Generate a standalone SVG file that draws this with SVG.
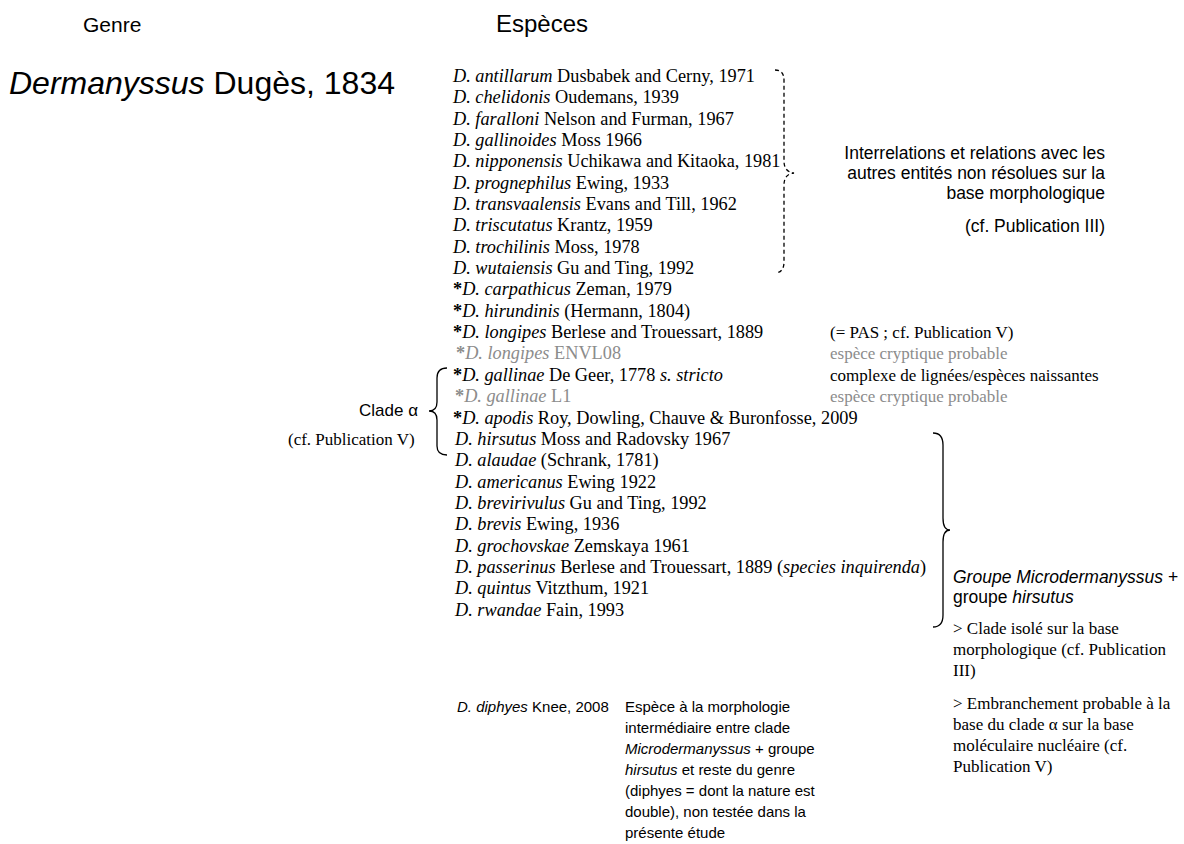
<svg xmlns="http://www.w3.org/2000/svg" width="1184" height="844" viewBox="0 0 1184 844">
<style>
.sans{font-family:"Liberation Sans",Arial,sans-serif;fill:#000}
.sp{font-family:"Liberation Serif","Times New Roman",serif;font-size:18.3px;fill:#000}
.note{font-family:"Liberation Serif","Times New Roman",serif;font-size:17px;fill:#000}
.grey{fill:#8c8c8c}
.i{font-style:italic}
.b{font-weight:bold}
.brace{fill:none;stroke:#000;stroke-width:1.3}
.dash{stroke-dasharray:4 3}
</style>
<rect width="1184" height="844" fill="#fff"/>
<g id="headers">
<text class="sans" x="83" y="32" font-size="21">Genre</text>
<text class="sans" x="496" y="32" font-size="24">Espèces</text>
</g>
<g id="genus">
<text class="sans" x="9" y="94" font-size="32"><tspan class="i">Dermanyssus</tspan> Dugès, 1834</text>
</g>
<g id="species">
<text class="sp" x="453" y="82"><tspan class="i">D. antillarum</tspan> Dusbabek and Cerny, 1971</text>
<text class="sp" x="453" y="103"><tspan class="i">D. chelidonis</tspan> Oudemans, 1939</text>
<text class="sp" x="453" y="125"><tspan class="i">D. faralloni</tspan> Nelson and Furman, 1967</text>
<text class="sp" x="453" y="146"><tspan class="i">D. gallinoides</tspan> Moss 1966</text>
<text class="sp" x="453" y="167"><tspan class="i">D. nipponensis</tspan> Uchikawa and Kitaoka, 1981</text>
<text class="sp" x="453" y="189"><tspan class="i">D. prognephilus</tspan> Ewing, 1933</text>
<text class="sp" x="453" y="210"><tspan class="i">D. transvaalensis</tspan> Evans and Till, 1962</text>
<text class="sp" x="453" y="231"><tspan class="i">D. triscutatus</tspan> Krantz, 1959</text>
<text class="sp" x="453" y="253"><tspan class="i">D. trochilinis</tspan> Moss, 1978</text>
<text class="sp" x="453" y="274"><tspan class="i">D. wutaiensis</tspan> Gu and Ting, 1992</text>
<text class="sp" x="453" y="295"><tspan class="b">*</tspan><tspan class="i">D. carpathicus</tspan> Zeman, 1979</text>
<text class="sp" x="453" y="317"><tspan class="b">*</tspan><tspan class="i">D. hirundinis</tspan> (Hermann, 1804)</text>
<text class="sp" x="453" y="338"><tspan class="b">*</tspan><tspan class="i">D. longipes</tspan> Berlese and Trouessart, 1889</text>
<text class="sp grey" x="456" y="359"><tspan class="b">*</tspan><tspan class="i">D. longipes</tspan> ENVL08</text>
<text class="sp" x="453" y="381"><tspan class="b">*</tspan><tspan class="i">D. gallinae</tspan> De Geer, 1778 <tspan class="i">s. stricto</tspan></text>
<text class="sp grey" x="455" y="402"><tspan class="b">*</tspan><tspan class="i">D. gallinae</tspan> L1</text>
<text class="sp" x="453" y="424"><tspan class="b">*</tspan><tspan class="i">D. apodis</tspan> Roy, Dowling, Chauve &amp; Buronfosse, 2009</text>
<text class="sp" x="455" y="445"><tspan class="i">D. hirsutus</tspan> Moss and Radovsky 1967</text>
<text class="sp" x="455" y="466"><tspan class="i">D. alaudae</tspan> (Schrank, 1781)</text>
<text class="sp" x="455" y="488"><tspan class="i">D. americanus</tspan> Ewing 1922</text>
<text class="sp" x="455" y="509"><tspan class="i">D. brevirivulus</tspan> Gu and Ting, 1992</text>
<text class="sp" x="455" y="530"><tspan class="i">D. brevis</tspan> Ewing, 1936</text>
<text class="sp" x="455" y="552"><tspan class="i">D. grochovskae</tspan> Zemskaya 1961</text>
<text class="sp" x="455" y="573"><tspan class="i">D. passerinus</tspan> Berlese and Trouessart, 1889 (<tspan class="i">species inquirenda</tspan>)</text>
<text class="sp" x="455" y="594"><tspan class="i">D. quintus</tspan> Vitzthum, 1921</text>
<text class="sp" x="455" y="616"><tspan class="i">D. rwandae</tspan> Fain, 1993</text>
</g>
<g id="notes-right">
<text class="note" x="830" y="338">(= PAS ; cf. Publication V)</text>
<text class="note grey" x="830" y="359">espèce cryptique probable</text>
<text class="note" x="830" y="381">complexe de lignées/espèces naissantes</text>
<text class="note grey" x="830" y="402">espèce cryptique probable</text>
</g>
<g id="unresolved-note" class="sans" font-size="17.5" text-anchor="end">
<text x="1105" y="159">Interrelations et relations avec les</text>
<text x="1105" y="179">autres entités non résolues sur la</text>
<text x="1105" y="199">base morphologique</text>
<text x="1105" y="232">(cf. Publication III)</text>
</g>
<g id="clade-alpha">
<text class="sans" x="359" y="416" font-size="17">Clade α</text>
<text class="note" x="288" y="445" font-size="16.5">(cf. Publication V)</text>
</g>
<g id="micro-group">
<text class="sans" x="953" y="583" font-size="17.5"><tspan class="i">Groupe Microdermanyssus</tspan> +</text>
<text class="sans" x="953" y="603" font-size="17.5">groupe <tspan class="i">hirsutus</tspan></text>
<text class="note" x="953" y="634" font-size="16">&gt; Clade isolé sur la base</text>
<text class="note" x="953" y="655" font-size="16">morphologique (cf. Publication</text>
<text class="note" x="953" y="676" font-size="16">III)</text>
<text class="note" x="953" y="709" font-size="16">&gt; Embranchement probable à la</text>
<text class="note" x="953" y="730" font-size="16">base du clade α sur la base</text>
<text class="note" x="953" y="751" font-size="16">moléculaire nucléaire (cf.</text>
<text class="note" x="953" y="772" font-size="16">Publication V)</text>
</g>
<g id="diphyes" class="sans" font-size="15">
<text x="457" y="712"><tspan class="i">D. diphyes</tspan> Knee, 2008</text>
<text x="625" y="712">Espèce à la morphologie</text>
<text x="625" y="733">intermédiaire entre clade</text>
<text x="625" y="754"><tspan class="i">Microdermanyssus</tspan> + groupe</text>
<text x="625" y="775"><tspan class="i">hirsutus</tspan> et reste du genre</text>
<text x="625" y="796">(diphyes = dont la nature est</text>
<text x="625" y="817">double), non testée dans la</text>
<text x="625" y="838">présente étude</text>
</g>
<g id="connectors">
<path class="brace dash" d="M775,70 Q784,70 784,80 L784,161 Q784,172 794,173 Q784,174 784,185 L784,262 Q784,272 776,273"/>
<path class="brace" d="M447,368 Q437,368 437,378 L437,402 Q437,411 429,411 Q437,411 437,420 L437,446 Q437,455 447,455"/>
<path class="brace" d="M933,433 Q943,433 943,445 L943,518 Q943,530 950,530 Q943,530 943,542 L943,615 Q943,627 933,627"/>
</g>
</svg>
